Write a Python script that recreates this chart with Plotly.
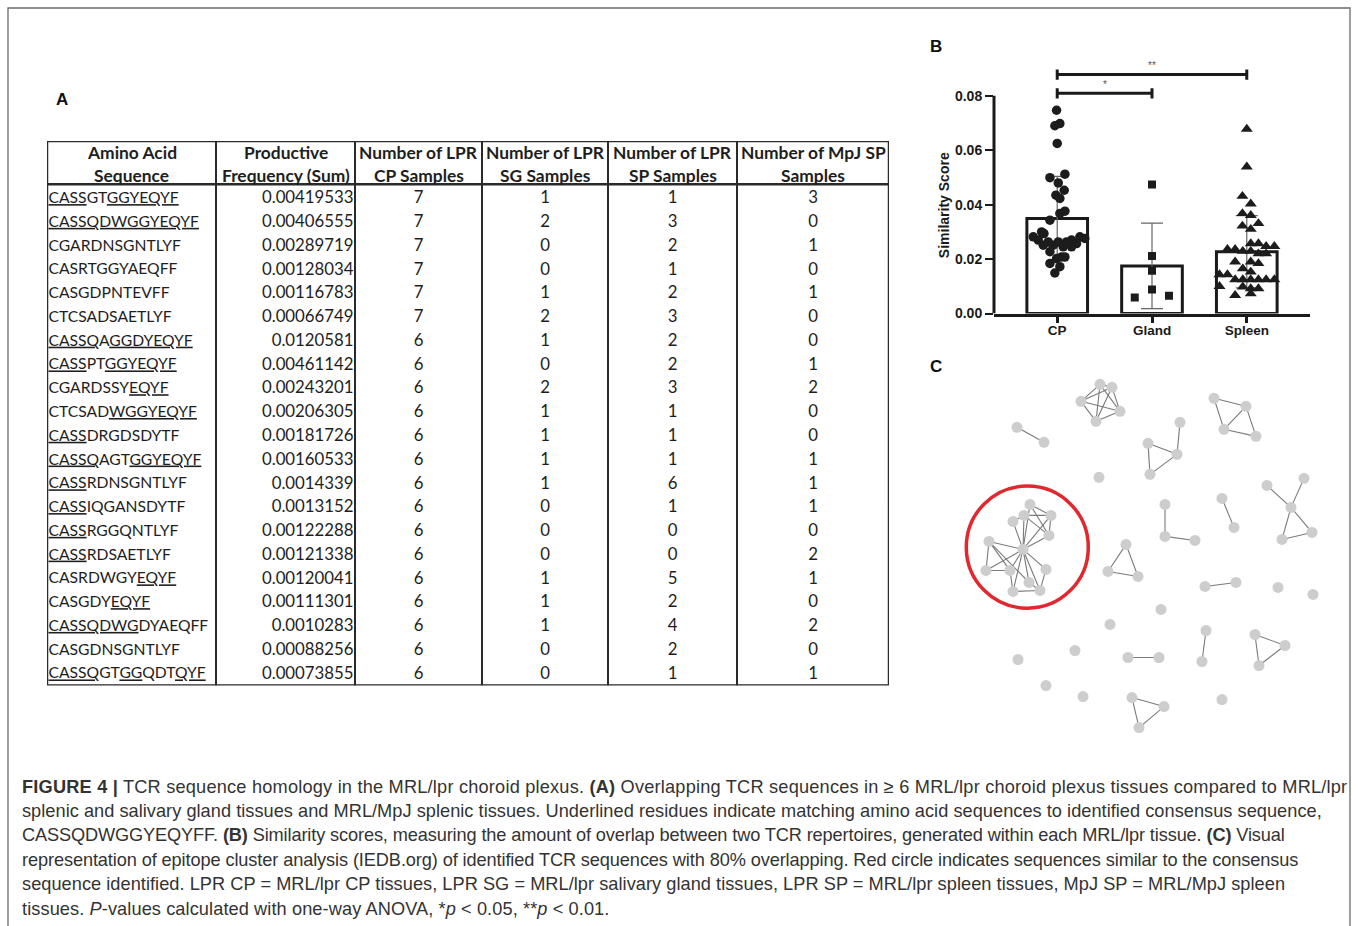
import plotly.graph_objects as go

W, H = 1358, 926
K = 1.0095  # vertical calibration of pixel positions

# ---------------- Panel A data (table) ----------------
sequences = ["CASSGTGGYEQYF", "CASSQDWGGYEQYF", "CGARDNSGNTLYF", "CASRTGGYAEQFF",
             "CASGDPNTEVFF", "CTCSADSAETLYF", "CASSQAGGDYEQYF", "CASSPTGGYEQYF",
             "CGARDSSYEQYF", "CTCSADWGGYEQYF", "CASSDRGDSDYTF", "CASSQAGTGGYEQYF",
             "CASSRDNSGNTLYF", "CASSIQGANSDYTF", "CASSRGGQNTLYF", "CASSRDSAETLYF",
             "CASRDWGYEQYF", "CASGDYEQYF", "CASSQDWGDYAEQFF", "CASGDNSGNTLYF",
             "CASSQGTGGQDTQYF"]
underlined = [[(0, 4), (6, 13)], [(0, 14)], [], [], [], [], [(0, 5), (6, 14)],
              [(0, 4), (6, 13)], [(8, 12)], [(6, 14)], [(0, 4)], [(0, 5), (8, 15)],
              [(0, 4)], [(0, 4)], [(0, 4)], [(0, 4)], [(8, 12)], [(6, 10)], [(0, 8)],
              [], [(0, 5), (7, 9), (12, 15)]]
productive_freq = [0.00419533, 0.00406555, 0.00289719, 0.00128034, 0.00116783,
                   0.00066749, 0.0120581, 0.00461142, 0.00243201, 0.00206305,
                   0.00181726, 0.00160533, 0.0014339, 0.0013152, 0.00122288,
                   0.00121338, 0.00120041, 0.00111301, 0.0010283, 0.00088256,
                   0.00073855]
n_lpr_cp = [7, 7, 7, 7, 7, 7, 6, 6, 6, 6, 6, 6, 6, 6, 6, 6, 6, 6, 6, 6, 6]
n_lpr_sg = [1, 2, 0, 0, 1, 2, 1, 0, 2, 1, 1, 1, 1, 0, 0, 0, 1, 1, 1, 0, 0]
n_lpr_sp = [1, 3, 2, 1, 2, 3, 2, 2, 3, 1, 1, 1, 6, 1, 0, 0, 5, 2, 4, 2, 1]
n_mpj_sp = [3, 0, 1, 0, 1, 0, 0, 1, 2, 0, 0, 1, 1, 1, 0, 2, 1, 0, 2, 0, 1]
header_lines = [("Amino Acid", "Sequence"), ("Productive", "Frequency (Sum)"),
                ("Number of LPR", "CP Samples"), ("Number of LPR", "SG Samples"),
                ("Number of LPR", "SP Samples"), ("Number of MpJ SP", "Samples")]

# ---------------- Panel B data ----------------
groups = ["CP", "Gland", "Spleen"]
group_mean = [0.0349, 0.0175, 0.0227]
group_sd = [0.0155, 0.0157, 0.0133]
cp_scores = [0.0747, 0.0698, 0.0690, 0.0625, 0.0499, 0.0512, 0.0480, 0.0453, 0.0435,
             0.0423, 0.0376, 0.0368, 0.0343, 0.0300, 0.0294, 0.0282, 0.0282, 0.0276,
             0.0270, 0.0270, 0.0263, 0.0263, 0.0263, 0.0257, 0.0251, 0.0251, 0.0245,
             0.0245, 0.0227, 0.0208, 0.0208, 0.0202, 0.0184, 0.0172, 0.0149]
cp_jitter = [-0.007, 0.028, -0.025, 0.0, -0.077, 0.081, 0.011, 0.074, -0.014, 0.028,
             0.081, 0.028, -0.077, -0.165, -0.14, -0.253, 0.239, 0.291, -0.2, 0.151,
             -0.095, 0.011, 0.098, 0.204, -0.147, -0.042, 0.063, 0.151, -0.077, 0.046,
             0.081, -0.007, -0.077, 0.028, -0.025]
gland_scores = [0.0474, 0.0211, 0.0157, 0.0088, 0.0059, 0.0065]
gland_jitter = [0.0, 0.0, 0.0, 0.0, -0.182, 0.179]
spleen_scores = [0.0678, 0.0539, 0.0431, 0.0403, 0.0368, 0.0361, 0.0322, 0.0331, 0.0310,
                 0.0257, 0.0257, 0.0247, 0.0247, 0.0236, 0.0236, 0.0229, 0.0229, 0.0220,
                 0.0220, 0.0190, 0.0190, 0.0184, 0.0165, 0.0153, 0.0143, 0.0143, 0.0125,
                 0.0125, 0.0125, 0.0125, 0.0125, 0.0125, 0.0100, 0.0098, 0.0092, 0.0092,
                 0.0067, 0.0073]
spleen_jitter = [0.0, 0.0, -0.046, 0.042, -0.046, 0.042, -0.046, 0.123, 0.042, 0.042,
                 0.123, 0.204, 0.291, -0.204, -0.123, -0.042, 0.042, 0.123, 0.204,
                 -0.123, 0.042, 0.123, -0.042, 0.042, -0.288, -0.204, -0.123, -0.042,
                 0.042, 0.123, 0.204, 0.291, -0.288, -0.042, 0.042, 0.123, -0.123, 0.042]
y_ticks = [0.00, 0.02, 0.04, 0.06, 0.08]
sig_pairs = [(0, 1, "*", 0.0809), (0, 2, "**", 0.0878)]

# ---------------- Panel C data (network layout) ----------------
nodes = {
    "a1": (170, 34), "a2": (182, 37), "a3": (151, 51), "a4": (190, 61), "a5": (166, 71),
    "b1": (87, 77), "b2": (114, 92), "s1": (169, 127),
    "f": (218, 93), "g": (247, 104), "h": (220, 124), "i": (250, 72),
    "j": (284, 48), "k": (316, 56), "l": (294, 79), "m": (326, 86),
    "n": (337, 135), "o": (374, 128), "p": (361, 157), "q": (352, 189), "r": (382, 182),
    "c1": (292, 148), "c2": (304, 177),
    "s": (235, 154), "t": (235, 186), "u": (265, 190),
    "v": (196, 194), "w": (178, 221), "x": (208, 226),
    "d1": (275, 236), "d2": (306, 232),
    "s2": (348, 237), "s3": (383, 244), "s4": (231, 259), "s5": (180, 274),
    "s6": (88, 309), "s7": (145, 300), "s8": (116, 335), "s9": (153, 346), "s10": (292, 349),
    "e1": (198, 307), "e2": (229, 307),
    "g1": (276, 280), "g2": (272, 311),
    "t1": (325, 284), "t2": (355, 295), "t3": (329, 315),
    "u1": (202, 347), "u2": (234, 356), "u3": (209, 377),
    "R0": (100, 154), "R1": (94, 165), "R2": (121, 165), "R3": (83, 171), "R4": (119, 185),
    "R5": (59, 191), "HUB": (93, 199), "R6": (56, 220), "R7": (80, 220), "R8": (116, 219),
    "R9": (99, 232), "R10": (83, 241), "R11": (110, 240),
}
edges = [
    ("a1", "a2"), ("a1", "a3"), ("a1", "a4"), ("a1", "a5"), ("a2", "a3"), ("a2", "a4"),
    ("a2", "a5"), ("a3", "a4"), ("a3", "a5"), ("a4", "a5"),
    ("b1", "b2"),
    ("f", "g"), ("f", "h"), ("h", "g"), ("g", "i"),
    ("j", "k"), ("j", "l"), ("k", "l"), ("k", "m"), ("l", "m"),
    ("n", "p"), ("o", "p"), ("p", "q"), ("p", "r"), ("q", "r"),
    ("c1", "c2"), ("s", "t"), ("t", "u"),
    ("v", "w"), ("v", "x"), ("w", "x"),
    ("d1", "d2"), ("e1", "e2"), ("g1", "g2"),
    ("t1", "t2"), ("t1", "t3"), ("t2", "t3"),
    ("u1", "u2"), ("u1", "u3"), ("u2", "u3"),
    ("HUB", "R0"), ("HUB", "R1"), ("HUB", "R2"), ("HUB", "R3"), ("HUB", "R4"),
    ("HUB", "R5"), ("HUB", "R6"), ("HUB", "R7"), ("HUB", "R8"), ("HUB", "R9"),
    ("HUB", "R10"), ("HUB", "R11"),
    ("R0", "R2"), ("R0", "R4"), ("R1", "R2"), ("R1", "R4"), ("R2", "R4"), ("R1", "R3"),
    ("R5", "R6"), ("R5", "R7"), ("R6", "R7"), ("R7", "R10"), ("R8", "R11"),
    ("R9", "R11"), ("R10", "R11"), ("R5", "R9"),
]
highlight_center = (97.3, 196.7)
highlight_radius = 61

caption_lines = [
    "<b>FIGURE 4 |</b> TCR sequence homology in the MRL/lpr choroid plexus. <b>(A)</b> Overlapping TCR sequences in ≥ 6 MRL/lpr choroid plexus tissues compared to MRL/lpr",
    "splenic and salivary gland tissues and MRL/MpJ splenic tissues. Underlined residues indicate matching amino acid sequences to identified consensus sequence,",
    "CASSQDWGGYEQYFF. <b>(B)</b> Similarity scores, measuring the amount of overlap between two TCR repertoires, generated within each MRL/lpr tissue. <b>(C)</b> Visual",
    "representation of epitope cluster analysis (IEDB.org) of identified TCR sequences with 80% overlapping. Red circle indicates sequences similar to the consensus",
    "sequence identified. LPR CP = MRL/lpr CP tissues, LPR SG = MRL/lpr salivary gland tissues, LPR SP = MRL/lpr spleen tissues, MpJ SP = MRL/MpJ spleen",
    "tissues. <i>P</i>-values calculated with one-way ANOVA, *<i>p</i> &lt; 0.05, **<i>p</i> &lt; 0.01.",
]
caption_tracking = [0.2, 0.03, -0.13, -0.11, 0.04, 0.09]  # letter-spacing (px) per line


def PX(x):
    return x / W


def PY(y):
    return 1 - y * K / H


def underline_markup(seq, spans):
    out, pos = "", 0
    for a, b in spans:
        out += seq[pos:a] + '<span style="text-decoration:underline">' + seq[a:b] + "</span>"
        pos = b
    return out + seq[pos:]


fig = go.Figure()
shapes, annots = [], []

# ---------------- Panel A: table ----------------
T_L, T_R, T_T, T_B, T_HDR = 47, 889, 141, 685, 184
col_edges = [47, 216, 355, 482, 608, 737, 889]
row0, row_step = 199, 23.75
row_y = [row0 + row_step * i for i in range(len(sequences))]
tfont = dict(family="Lato, 'Open Sans', sans-serif", size=15.7, color="#1e1e1e")
nfont = dict(family="Lato, 'Open Sans', sans-serif", size=16.8, color="#1e1e1e")

fig.add_trace(go.Scatter(
    x=[col_edges[0] + 1.5] * len(sequences), y=row_y, mode="text",
    text=[underline_markup(s, u) for s, u in zip(sequences, underlined)],
    textposition="middle right", textfont=tfont, xaxis="x3", yaxis="y3",
    hoverinfo="skip", showlegend=False))
fig.add_trace(go.Scatter(
    x=[col_edges[2] - 1.5] * len(sequences), y=row_y, mode="text",
    text=[repr(v) for v in productive_freq],
    textposition="middle left", textfont=nfont, xaxis="x3", yaxis="y3",
    hoverinfo="skip", showlegend=False))
for ci, col in enumerate([n_lpr_cp, n_lpr_sg, n_lpr_sp, n_mpj_sp]):
    cx = (col_edges[ci + 2] + col_edges[ci + 3]) / 2
    fig.add_trace(go.Scatter(
        x=[cx] * len(col), y=row_y, mode="text", text=[str(v) for v in col],
        textposition="middle center", textfont=nfont, xaxis="x3", yaxis="y3",
        hoverinfo="skip", showlegend=False))

for ci, (l1, l2) in enumerate(header_lines):
    cx = (col_edges[ci] + col_edges[ci + 1]) / 2
    for txt, yy in ((l1, 152.5), (l2, 175)):
        annots.append(dict(x=cx, y=yy, xref="x3", yref="y3", text="<b>%s</b>" % txt,
                           xanchor="center", yanchor="middle", showarrow=False,
                           font=dict(family="Lato, sans-serif", size=17.4, color="#1e1e1e")))

lc = "#2a2a2a"
shapes.append(dict(type="rect", xref="x3", yref="y3", x0=T_L, x1=T_R, y0=T_T, y1=T_B,
                   line=dict(color=lc, width=2.5)))
shapes.append(dict(type="line", xref="x3", yref="y3", x0=T_L, x1=T_R, y0=T_HDR, y1=T_HDR,
                   line=dict(color=lc, width=2.5)))
for xe in col_edges[1:-1]:
    shapes.append(dict(type="line", xref="x3", yref="y3", x0=xe, x1=xe, y0=T_T, y1=T_B,
                       line=dict(color=lc, width=2)))

# ---------------- Panel B: bar + scatter ----------------
fig.add_trace(go.Bar(
    x=[0, 1, 2], y=group_mean, width=0.64,
    marker=dict(color="white", line=dict(color="#1a1a1a", width=3)),
    error_y=dict(type="data", array=group_sd, visible=True, color="#666",
                 thickness=1.2, width=11),
    xaxis="x", yaxis="y", showlegend=False, hoverinfo="skip"))
fig.add_trace(go.Scatter(
    x=[0 + j for j in cp_jitter], y=cp_scores, mode="markers",
    marker=dict(symbol="circle", size=9.5, color="#1c1c1c"), showlegend=False))
fig.add_trace(go.Scatter(
    x=[1 + j for j in gland_jitter], y=gland_scores, mode="markers",
    marker=dict(symbol="square", size=8, color="#1c1c1c"), showlegend=False))
fig.add_trace(go.Scatter(
    x=[2 + j for j in spleen_jitter], y=spleen_scores, mode="markers",
    marker=dict(symbol="triangle-up", size=10.5, color="#1c1c1c"), showlegend=False))

# y axis line only up to 0.08
shapes.append(dict(type="line", xref="paper", yref="y", x0=PX(994), x1=PX(994),
                   y0=0, y1=max(y_ticks), line=dict(color="#1a1a1a", width=3)))
for g1, g2, star, yv in sig_pairs:
    shapes.append(dict(type="line", xref="x", yref="y", x0=g1, x1=g2, y0=yv, y1=yv,
                       line=dict(color="#1a1a1a", width=3)))
    for gx in (g1, g2):
        shapes.append(dict(type="line", xref="x", yref="y", x0=gx, x1=gx,
                           y0=yv - 0.0019, y1=yv + 0.0019,
                           line=dict(color="#1a1a1a", width=3)))
    annots.append(dict(x=(g1 + g2) / 2, y=yv + 0.0032, xref="x", yref="y", text=star,
                       xanchor="center", yanchor="middle", showarrow=False,
                       font=dict(family="Liberation Sans", size=10, color="#555")))
annots.append(dict(x=PX(944), y=PY(205), xref="paper", yref="paper",
                   text="<b>Similarity Score</b>", textangle=-90, showarrow=False,
                   xanchor="center", yanchor="middle",
                   font=dict(family="Liberation Sans, Arial", size=14, color="#1a1a1a")))

# ---------------- Panel C: network ----------------
ex, ey = [], []
for a, b in edges:
    ex += [nodes[a][0], nodes[b][0], None]
    ey += [nodes[a][1], nodes[b][1], None]
fig.add_trace(go.Scatter(x=ex, y=ey, mode="lines", line=dict(color="#7a7a7a", width=1.1),
                         xaxis="x2", yaxis="y2", showlegend=False, hoverinfo="skip"))
fig.add_trace(go.Scatter(x=[v[0] for v in nodes.values()], y=[v[1] for v in nodes.values()],
                         mode="markers", marker=dict(size=11, color="#cdcdcd"),
                         xaxis="x2", yaxis="y2", showlegend=False, hoverinfo="skip"))
ccx, ccy = highlight_center
rad = highlight_radius
shapes.append(dict(type="circle", xref="x2", yref="y2", x0=ccx - rad, x1=ccx + rad,
                   y0=ccy - rad, y1=ccy + rad, line=dict(color="#e0282e", width=3.5)))

# ---------------- labels, caption, frame ----------------
for lab, xx, yy in (("A", 62, 99), ("B", 936, 46), ("C", 936, 366)):
    annots.append(dict(x=PX(xx), y=PY(yy), xref="paper", yref="paper", text="<b>%s</b>" % lab,
                       xanchor="center", yanchor="middle", showarrow=False,
                       font=dict(family="Liberation Sans, Arial", size=17, color="#111")))
for i, (line, trk) in enumerate(zip(caption_lines, caption_tracking)):
    annots.append(dict(x=PX(20), y=PY(786 + 24.4 * i), xref="paper", yref="paper",
                       xanchor="left", yanchor="middle",
                       text='<span style="letter-spacing:%.2fpx">%s</span>' % (trk, line),
                       showarrow=False,
                       font=dict(family="Liberation Sans, Arial", size=18.2, color="#333")))
shapes.append(dict(type="rect", xref="paper", yref="paper", x0=PX(8), x1=PX(1350),
                   y0=PY(950), y1=PY(8), line=dict(color="#6a6a6a", width=1.3), layer="below"))

fig.update_layout(
    width=W, height=H, margin=dict(l=0, r=0, t=0, b=0), autosize=False,
    paper_bgcolor="white", plot_bgcolor="rgba(0,0,0,0)", showlegend=False,
    shapes=shapes, annotations=annots,
    xaxis=dict(domain=[PX(994), PX(1310)], range=[-0.667, 2.667], tickvals=[0, 1, 2],
               ticktext=["<b>%s</b>" % g for g in groups], showline=True, linewidth=3,
               linecolor="#1a1a1a", ticks="outside", ticklen=6, tickwidth=3,
               tickcolor="#1a1a1a", showgrid=False, zeroline=False, fixedrange=True,
               ticklabelstandoff=-4,
               tickfont=dict(family="Liberation Sans, Arial", size=13.5, color="#1a1a1a")),
    yaxis=dict(domain=[PY(313.3), PY(63.1)], range=[0, 0.092], tickvals=y_ticks,
               ticktext=["<b>%.2f</b>" % v for v in y_ticks], showline=False,
               ticks="outside", ticklen=8, tickwidth=2, tickcolor="#1a1a1a",
               showgrid=False, zeroline=False, fixedrange=True,
               tickfont=dict(family="Liberation Sans, Arial", size=14, color="#1a1a1a")),
    xaxis2=dict(domain=[PX(930), PX(1340)], range=[0, 410], visible=False),
    yaxis2=dict(domain=[PY(740), PY(350)], range=[390, 0], visible=False),
    xaxis3=dict(domain=[PX(T_L), PX(T_R)], range=[T_L, T_R], visible=False),
    yaxis3=dict(domain=[PY(T_B), PY(T_T)], range=[T_B, T_T], visible=False),
)

fig.write_html("out.html", config={"displayModeBar": False},
               post_script="document.body.style.margin='0';document.body.style.padding='0';"
                           "document.documentElement.style.overflow='hidden';")
